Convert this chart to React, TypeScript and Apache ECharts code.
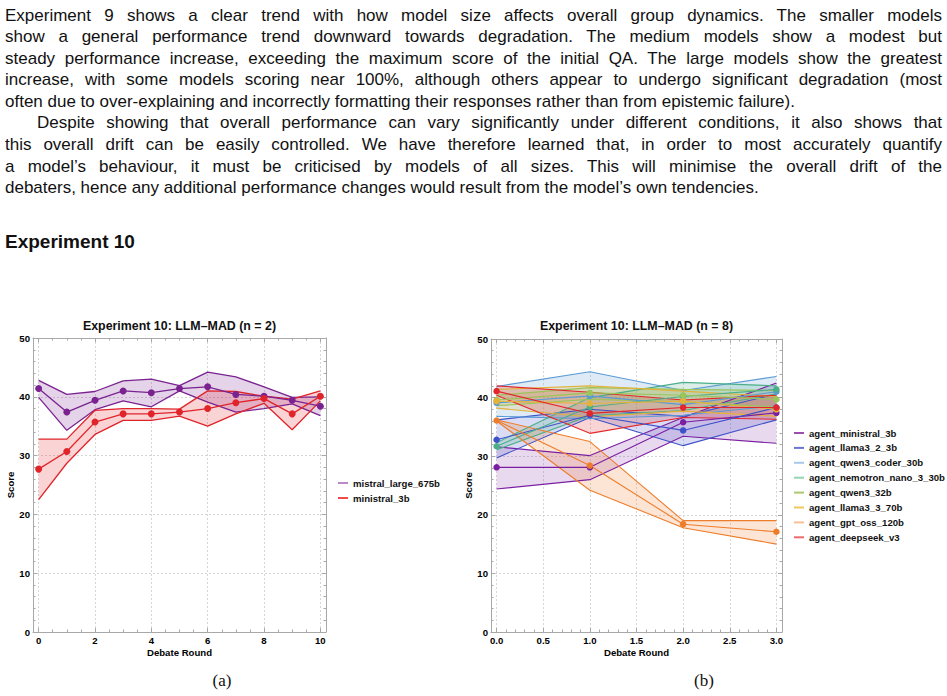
import React, { useEffect, useRef } from "react";
import * as echarts from "echarts";

// ---------- Text ----------
const paragraph1 = [
  "Experiment 9 shows a clear trend with how model size affects overall group dynamics.  The smaller models",
  "show a general performance trend downward towards degradation.  The medium models show a modest but",
  "steady performance increase, exceeding the maximum score of the initial QA. The large models show the greatest",
  "increase, with some models scoring near 100%, although others appear to undergo significant degradation (most",
  "often due to over-explaining and incorrectly formatting their responses rather than from epistemic failure).",
];
const paragraph2 = [
  "Despite showing that overall performance can vary significantly under different conditions, it also shows that",
  "this overall drift can be easily controlled. We have therefore learned that, in order to most accurately quantify",
  "a model\u2019s behaviour, it must be criticised by models of all sizes.  This will minimise the overall drift of the",
  "debaters, hence any additional performance changes would result from the model\u2019s own tendencies.",
];
const headingText = "Experiment 10";

// ---------- Chart (a) data ----------
const titleA = "Experiment 10: LLM\u2013MAD (n = 2)";
const roundsA = [0, 1, 2, 3, 4, 5, 6, 7, 8, 9, 10];
const mistralLargeMean = [41.4, 37.4, 39.4, 41.0, 40.7, 41.4, 41.7, 40.4, 40.1, 39.4, 38.4];
const mistralLargeHigh = [42.8, 40.4, 40.9, 42.7, 43.0, 41.9, 44.2, 43.4, 41.7, 39.9, 40.0];
const mistralLargeLow = [39.9, 34.3, 37.8, 39.3, 38.3, 41.0, 39.1, 37.4, 38.0, 38.8, 36.8];
const ministralMean = [27.7, 30.7, 35.7, 37.1, 37.1, 37.4, 38.0, 39.0, 39.7, 37.1, 40.1];
const ministralHigh = [32.8, 32.8, 37.7, 38.0, 38.0, 37.9, 41.0, 40.9, 40.1, 39.6, 41.0];
const ministralLow = [22.5, 28.7, 33.6, 36.0, 36.0, 36.7, 35.0, 37.1, 38.9, 34.4, 39.3];
const xTicksA = [0, 2, 4, 6, 8, 10];
const xMinorA = [0.5, 1, 1.5, 2.5, 3, 3.5, 4.5, 5, 5.5, 6.5, 7, 7.5, 8.5, 9, 9.5];
const yTicks = [0, 10, 20, 30, 40, 50];
const yMinor = [2, 4, 6, 8, 12, 14, 16, 18, 22, 24, 26, 28, 32, 34, 36, 38, 42, 44, 46, 48];

// ---------- Chart (b) data ----------
const titleB = "Experiment 10: LLM\u2013MAD (n = 8)";
const roundsB = [0, 1, 2, 3];
const agentNames = [
  "agent_ministral_3b",
  "agent_llama3_2_3b",
  "agent_qwen3_coder_30b",
  "agent_nemotron_nano_3_30b",
  "agent_qwen3_32b",
  "agent_llama3_3_70b",
  "agent_gpt_oss_120b",
  "agent_deepseek_v3",
];
const ministralBMean = [28.1, 28.1, 35.8, 37.4];
const ministralBHigh = [31.6, 30.1, 36.6, 42.5];
const ministralBLow = [24.4, 26.0, 33.4, 32.2];
const llama32Mean = [32.8, 37.0, 34.4, 38.3];
const llama32High = [36.2, 38.0, 36.8, 40.6];
const llama32Low = [29.7, 36.6, 31.8, 36.2];
const qwenCoderMean = [39.1, 40.3, 38.8, 41.0];
const qwenCoderHigh = [41.9, 44.4, 41.2, 43.6];
const qwenCoderLow = [36.8, 36.4, 37.0, 38.6];
const nemotronMean = [31.7, 38.4, 40.2, 41.4];
const nemotronHigh = [32.3, 40.0, 42.6, 42.0];
const nemotronLow = [31.1, 36.9, 37.8, 40.6];
const qwen32Mean = [39.6, 40.8, 40.4, 39.7];
const qwen32High = [40.4, 41.7, 41.4, 41.2];
const qwen32Low = [38.6, 39.7, 39.3, 38.4];
const llama33Mean = [39.4, 39.0, 39.4, 38.0];
const llama33High = [41.4, 42.0, 41.1, 40.2];
const llama33Low = [38.2, 36.7, 37.7, 36.8];
const gptOssMean = [36.1, 28.4, 18.4, 17.1];
const gptOssHigh = [36.2, 32.5, 19.0, 19.0];
const gptOssLow = [36.0, 24.2, 17.8, 15.0];
const deepseekMean = [41.1, 37.3, 38.3, 38.3];
const deepseekHigh = [42.0, 40.9, 39.6, 40.4];
const deepseekLow = [40.4, 33.9, 36.6, 36.3];
const xTicksB = [0, 0.5, 1, 1.5, 2, 2.5, 3];
const xMinorB = [
  0.1, 0.2, 0.3, 0.4, 0.6, 0.7, 0.8, 0.9, 1.1, 1.2, 1.3, 1.4, 1.6, 1.7, 1.8, 1.9,
  2.1, 2.2, 2.3, 2.4, 2.6, 2.7, 2.8, 2.9,
];

// ---------- Styles ----------
const FONT = "'Liberation Sans', Arial, Helvetica, sans-serif";
const FRAME = "#a8a8a8";
const GRIDLINE = "#d6d6d6";

const colorsA = ["#7a2390", "#e0242a"];
const fillsA = ["rgba(122,35,144,0.2)", "rgba(228,36,42,0.2)"];
const legendColorsA = ["#b98ac8", "#f04c4c"];

const colorsB = ["#7b1fa2", "#3f51c8", "#5b9bd5", "#4caf8a", "#9bc45a", "#e2b23a", "#ee7d2b", "#e3262b"];
const fillsB = [
  "rgba(123,31,162,0.17)",
  "rgba(63,81,200,0.2)",
  "rgba(91,155,213,0.2)",
  "rgba(76,175,138,0.2)",
  "rgba(155,196,90,0.2)",
  "rgba(226,178,58,0.2)",
  "rgba(238,125,43,0.2)",
  "rgba(227,38,43,0.2)",
];
const legendColorsB = ["#9a4fb0", "#6675d8", "#a9c9ec", "#93d6b6", "#acc870", "#edc95e", "#f8bf92", "#ef6b6b"];

function bandSeries(
  name: string,
  xs: number[],
  mean: number[],
  lo: number[],
  hi: number[],
  color: string,
  fill: string,
  axisIndex: number,
  lw: number,
  sym: number
) {
  const edge = (vals: number[], suffix: string) => ({
    name: name + suffix,
    type: "line",
    xAxisIndex: axisIndex,
    yAxisIndex: axisIndex,
    data: xs.map((x, i) => [x, vals[i]]),
    symbol: "none",
    lineStyle: { color, width: lw },
    itemStyle: { color },
    silent: true,
    z: 3,
  });
  return [
    {
      name: name + " band",
      type: "custom",
      xAxisIndex: axisIndex,
      yAxisIndex: axisIndex,
      silent: true,
      z: 1,
      clip: true,
      data: xs.map((x, i) => [x, lo[i], hi[i]]),
      encode: { x: 0, y: [1, 2] },
      renderItem: (params: any, api: any) => {
        if (params.dataIndex !== 0) return { type: "group", children: [] };
        const pts: number[][] = [];
        xs.forEach((x, i) => pts.push(api.coord([x, hi[i]])));
        for (let i = xs.length - 1; i >= 0; i--) pts.push(api.coord([xs[i], lo[i]]));
        return { type: "polygon", shape: { points: pts }, style: { fill, stroke: "none" } };
      },
    },
    edge(lo, " lower"),
    edge(hi, " upper"),
    {
      name,
      type: "line",
      xAxisIndex: axisIndex,
      yAxisIndex: axisIndex,
      data: xs.map((x, i) => [x, mean[i]]),
      symbol: "circle",
      symbolSize: sym,
      showSymbol: true,
      lineStyle: { color, width: lw },
      itemStyle: { color },
      silent: true,
      z: 4,
    },
  ];
}

const labelStyle = {
  color: "#000",
  fontWeight: "bold" as const,
  fontSize: 9.6,
  fontFamily: FONT,
};

function tick(values: number[], length: number) {
  return { show: true, inside: true, length, customValues: values, lineStyle: { color: FRAME, width: 1 } };
}

function xAxesFor(grid: number, min: number, max: number, majors: number[], minors: number[], fmt: (v: number) => string) {
  const base = {
    type: "value",
    gridIndex: grid,
    min,
    max,
    axisLine: { show: true, onZero: false, lineStyle: { color: FRAME, width: 1 } },
    axisLabel: { show: false },
    splitLine: { show: false },
    minorTick: { show: false },
    minorSplitLine: { show: false },
  };
  return [
    {
      ...base,
      position: "bottom",
      axisTick: tick(majors, 4),
      axisLabel: { show: true, customValues: majors, formatter: fmt, margin: 3, ...labelStyle },
      splitLine: { show: true, lineStyle: { color: GRIDLINE, type: [2, 2], width: 1 } },
      name: "Debate Round",
      nameLocation: "middle",
      nameGap: 15,
      nameTextStyle: labelStyle,
    },
    { ...base, position: "bottom", axisLine: { show: false, onZero: false }, axisTick: tick(minors, 2.5) },
    { ...base, position: "top", axisTick: tick(majors, 4) },
    { ...base, position: "top", axisLine: { show: false, onZero: false }, axisTick: tick(minors, 2.5) },
  ];
}

function yAxesFor(grid: number, nameGap: number) {
  const base = {
    type: "value",
    gridIndex: grid,
    min: 0,
    max: 50,
    axisLine: { show: true, onZero: false, lineStyle: { color: FRAME, width: 1 } },
    axisLabel: { show: false },
    splitLine: { show: false },
    minorTick: { show: false },
    minorSplitLine: { show: false },
  };
  return [
    {
      ...base,
      position: "left",
      axisTick: tick(yTicks, 4),
      axisLabel: { show: true, customValues: yTicks, margin: 3, ...labelStyle },
      splitLine: { show: true, lineStyle: { color: GRIDLINE, type: [2, 2], width: 1 } },
      name: "Score",
      nameLocation: "middle",
      nameGap,
      nameTextStyle: labelStyle,
    },
    { ...base, position: "left", axisLine: { show: false, onZero: false }, axisTick: tick(yMinor, 2.5) },
    { ...base, position: "right", axisTick: tick(yTicks, 4) },
    { ...base, position: "right", axisLine: { show: false, onZero: false }, axisTick: tick(yMinor, 2.5) },
  ];
}

function buildOption() {
  const seriesA = [
    ...bandSeries("mistral_large_675b", roundsA, mistralLargeMean, mistralLargeLow, mistralLargeHigh, colorsA[0], fillsA[0], 0, 1.3, 7),
    ...bandSeries("ministral_3b", roundsA, ministralMean, ministralLow, ministralHigh, colorsA[1], fillsA[1], 0, 1.3, 7),
  ];
  const meansB = [ministralBMean, llama32Mean, qwenCoderMean, nemotronMean, qwen32Mean, llama33Mean, gptOssMean, deepseekMean];
  const lowsB = [ministralBLow, llama32Low, qwenCoderLow, nemotronLow, qwen32Low, llama33Low, gptOssLow, deepseekLow];
  const highsB = [ministralBHigh, llama32High, qwenCoderHigh, nemotronHigh, qwen32High, llama33High, gptOssHigh, deepseekHigh];
  const seriesB: any[] = [];
  agentNames.forEach((n, i) => {
    seriesB.push(...bandSeries(n, roundsB, meansB[i], lowsB[i], highsB[i], colorsB[i], fillsB[i], 4, 1.1, 6.5));
  });

  return {
    animation: false,
    backgroundColor: "transparent",
    grid: [
      { left: 33, top: 338, width: 293, height: 294 },
      { left: 491, top: 339, width: 291, height: 293 },
    ],
    xAxis: [
      ...xAxesFor(0, -0.2, 10.2, xTicksA, xMinorA, (v: number) => String(v)),
      ...xAxesFor(1, -0.06, 3.06, xTicksB, xMinorB, (v: number) => v.toFixed(1)),
    ],
    yAxis: [...yAxesFor(0, 16), ...yAxesFor(1, 12.5)],
    legend: [
      {
        data: ["mistral_large_675b", "ministral_3b"].map((n, i) => ({ name: n, itemStyle: { color: legendColorsA[i] } })),
        left: 333,
        top: 473,
        orient: "vertical",
        icon: "rect",
        itemWidth: 10,
        itemHeight: 2,
        itemGap: 5,
        selectedMode: false,
        textStyle: { ...labelStyle, color: "#111" },
      },
      {
        data: agentNames.map((n, i) => ({ name: n, itemStyle: { color: legendColorsB[i] } })),
        left: 789,
        top: 423,
        orient: "vertical",
        icon: "rect",
        itemWidth: 10,
        itemHeight: 2,
        itemGap: 4.9,
        selectedMode: false,
        textStyle: { ...labelStyle, color: "#111" },
      },
    ],
    graphic: [
      {
        type: "text",
        x: 179.5,
        y: 326,
        style: { text: titleA, fill: "#111", fontSize: 12.4, fontWeight: "bold", fontFamily: FONT, align: "center", verticalAlign: "middle" },
      },
      {
        type: "text",
        x: 636.5,
        y: 326,
        style: { text: titleB, fill: "#111", fontSize: 12.4, fontWeight: "bold", fontFamily: FONT, align: "center", verticalAlign: "middle" },
      },
    ],
    series: [...seriesA, ...seriesB],
  };
}

function Line({ text, justify, indent }: { text: string; justify: boolean; indent?: number }) {
  return (
    <div
      style={{
        whiteSpace: "nowrap",
        textAlign: justify ? "justify" : "left",
        textAlignLast: justify ? "justify" : "left",
        paddingLeft: indent || 0,
        height: 21.6,
        lineHeight: "21.6px",
      }}
    >
      {text}
    </div>
  );
}

export default function App() {
  const ref = useRef<HTMLDivElement>(null);
  useEffect(() => {
    if (!ref.current) return;
    const chart = echarts.init(ref.current, null, { renderer: "svg" });
    chart.setOption(buildOption() as any);
    return () => chart.dispose();
  }, []);

  const textFont: React.CSSProperties = {
    fontFamily: FONT,
    fontSize: 17,
    color: "#111",
  };

  return (
    <div style={{ position: "absolute", left: 0, top: 0, width: 947, height: 696, background: "#fff", overflow: "hidden" }}>
      <div ref={ref} style={{ position: "absolute", left: 0, top: 0, width: 947, height: 696 }} />
      <div style={{ position: "absolute", left: 5, top: 4.5, width: 937, ...textFont }}>
        {paragraph1.map((t, i) => (
          <Line key={"p1" + i} text={t} justify={i < paragraph1.length - 1} />
        ))}
        {paragraph2.map((t, i) => (
          <Line key={"p2" + i} text={t} justify={i < paragraph2.length - 1} indent={i === 0 ? 32 : 0} />
        ))}
      </div>
      <div
        style={{
          position: "absolute",
          left: 5,
          top: 232,
          fontFamily: FONT,
          fontWeight: "bold",
          fontSize: 19,
          lineHeight: "19px",
          color: "#111",
          whiteSpace: "nowrap",
        }}
      >
        {headingText}
      </div>
      <div
        style={{
          position: "absolute",
          left: 222,
          top: 681,
          transform: "translate(-50%, -50%)",
          fontFamily: "'Liberation Serif', 'DejaVu Serif', serif",
          fontSize: 17,
          color: "#111",
        }}
      >
        (a)
      </div>
      <div
        style={{
          position: "absolute",
          left: 704,
          top: 681,
          transform: "translate(-50%, -50%)",
          fontFamily: "'Liberation Serif', 'DejaVu Serif', serif",
          fontSize: 17,
          color: "#111",
        }}
      >
        (b)
      </div>
    </div>
  );
}
